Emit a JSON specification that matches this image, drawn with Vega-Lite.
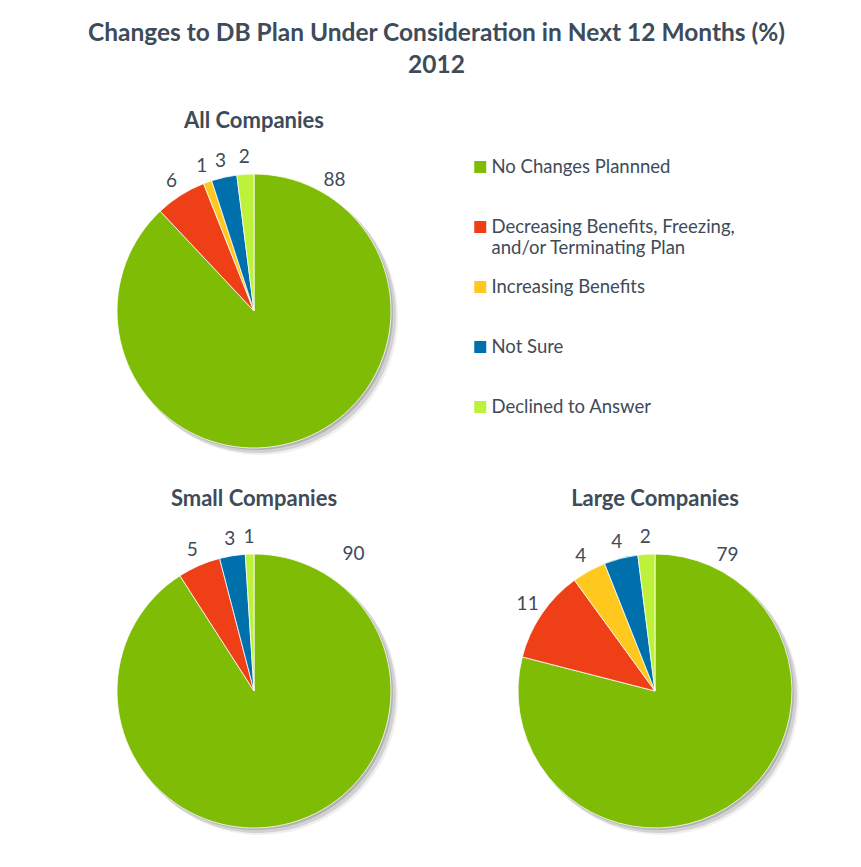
{
  "$schema": "https://vega.github.io/schema/vega-lite/v6.json",
  "background": "white",
  "padding": {"top": 20, "left": 87, "right": 5, "bottom": 5},
  "config": {
    "view": {"stroke": null},
    "font": "Lato",
    "title": {"font": "Lato", "fontWeight": "bold", "color": "#3E4B59"}
  },
  "title": {
    "text": ["Changes to DB Plan Under Consideration in Next 12 Months (%)", "2012"],
    "fontSize": 24.5,
    "lineHeight": 32,
    "anchor": "middle",
    "dx": -18,
    "offset": 32
  },
  "datasets": {
    "shares": [
      {"company": "All", "k": 0, "category": "No Changes Plannned", "value": 88},
      {"company": "All", "k": 1, "category": "Decreasing Benefits, Freezing, and/or Terminating Plan", "value": 6},
      {"company": "All", "k": 2, "category": "Increasing Benefits", "value": 1},
      {"company": "All", "k": 3, "category": "Not Sure", "value": 3},
      {"company": "All", "k": 4, "category": "Declined to Answer", "value": 2},
      {"company": "Small", "k": 0, "category": "No Changes Plannned", "value": 90},
      {"company": "Small", "k": 1, "category": "Decreasing Benefits, Freezing, and/or Terminating Plan", "value": 5},
      {"company": "Small", "k": 3, "category": "Not Sure", "value": 3},
      {"company": "Small", "k": 4, "category": "Declined to Answer", "value": 1},
      {"company": "Large", "k": 0, "category": "No Changes Plannned", "value": 79},
      {"company": "Large", "k": 1, "category": "Decreasing Benefits, Freezing, and/or Terminating Plan", "value": 11},
      {"company": "Large", "k": 2, "category": "Increasing Benefits", "value": 4},
      {"company": "Large", "k": 3, "category": "Not Sure", "value": 4},
      {"company": "Large", "k": 4, "category": "Declined to Answer", "value": 2}
    ]
  },
  "data": {"name": "shares"},
  "bounds": "flush",
  "spacing": 80,
  "resolve": {"scale": {"color": "shared"}},
  "vconcat": [
    {
      "title": {"text": "All Companies", "fontSize": 22, "offset": 15},
      "width": 300,
      "height": 300,
      "transform": [{"filter": "datum.company == 'All'"}],
      "encoding": {
        "theta": {"field": "value", "type": "quantitative", "stack": true},
        "order": {"field": "k", "type": "quantitative"},
        "color": {
          "field": "category",
          "type": "nominal",
          "scale": {
            "domain": ["No Changes Plannned", "Decreasing Benefits, Freezing, and/or Terminating Plan", "Increasing Benefits", "Not Sure", "Declined to Answer"],
            "range": ["#7FBC05", "#EE3F16", "#FFC81E", "#0070AD", "#BEF23A"]
          },
          "legend": {
            "title": null,
            "orient": "none",
            "legendX": 367,
            "legendY": -24,
            "padding": 0,
            "symbolType": "square",
            "symbolSize": 144,
            "symbolStrokeWidth": 0,
            "labelFont": "Lato",
            "labelFontSize": 18.5,
            "labelColor": "#3E4B59",
            "labelOffset": 2,
            "labelLimit": 400,
            "rowPadding": 0,
            "clipHeight": 60,
            "labelExpr": "datum.label == 'Decreasing Benefits, Freezing, and/or Terminating Plan' ? ['Decreasing Benefits, Freezing,', 'and/or Terminating Plan'] : datum.label"
          }
        }
      },
      "layer": [
        {"mark": {"type": "arc", "outerRadius": 138, "opacity": 0.06, "xOffset": 6, "yOffset": 6}, "encoding": {"color": {"value": "#000000"}}},
        {"mark": {"type": "arc", "outerRadius": 138, "opacity": 0.12, "xOffset": 4, "yOffset": 4}, "encoding": {"color": {"value": "#000000"}}},
        {"mark": {"type": "arc", "outerRadius": 137, "opacity": 0.15, "xOffset": 2, "yOffset": 2}, "encoding": {"color": {"value": "#000000"}}},
        {"mark": {"type": "arc", "outerRadius": 137, "stroke": "white", "strokeWidth": 0.8}},
        {
          "mark": {"type": "text", "radius": 154, "fontSize": 19, "font": "Lato", "thetaOffset": {"expr": "datum.k == 0 ? 0.55 - datum.value / 100 * PI : 0"}},
          "encoding": {
            "text": {"field": "value"},
            "color": {"value": "#3E4B59"}
          }
        }
      ]
    },
    {
      "bounds": "flush",
      "spacing": 101,
      "hconcat": [
        {
          "title": {"text": "Small Companies", "fontSize": 22, "offset": 17},
          "width": 300,
          "height": 300,
          "transform": [{"filter": "datum.company == 'Small'"}],
          "encoding": {
            "theta": {"field": "value", "type": "quantitative", "stack": true},
            "order": {"field": "k", "type": "quantitative"},
            "color": {"field": "category", "type": "nominal"}
          },
          "layer": [
            {"mark": {"type": "arc", "outerRadius": 138, "opacity": 0.06, "xOffset": 6, "yOffset": 6}, "encoding": {"color": {"value": "#000000"}}},
            {"mark": {"type": "arc", "outerRadius": 138, "opacity": 0.12, "xOffset": 4, "yOffset": 4}, "encoding": {"color": {"value": "#000000"}}},
            {"mark": {"type": "arc", "outerRadius": 137, "opacity": 0.15, "xOffset": 2, "yOffset": 2}, "encoding": {"color": {"value": "#000000"}}},
            {"mark": {"type": "arc", "outerRadius": 137, "stroke": "white", "strokeWidth": 0.8}},
            {
              "mark": {"type": "text", "radius": 154, "fontSize": 19, "font": "Lato", "thetaOffset": {"expr": "datum.k == 0 ? 0.63 - datum.value / 99 * PI : 0"}, "radiusOffset": {"expr": "datum.k == 0 ? 15 : 0"}},
              "encoding": {
                "text": {"field": "value"},
                "color": {"value": "#3E4B59"}
              }
            }
          ]
        },
        {
          "title": {"text": "Large Companies", "fontSize": 22, "offset": 17},
          "width": 300,
          "height": 300,
          "transform": [{"filter": "datum.company == 'Large'"}],
          "encoding": {
            "theta": {"field": "value", "type": "quantitative", "stack": true},
            "order": {"field": "k", "type": "quantitative"},
            "color": {"field": "category", "type": "nominal"}
          },
          "layer": [
            {"mark": {"type": "arc", "outerRadius": 138, "opacity": 0.06, "xOffset": 6, "yOffset": 6}, "encoding": {"color": {"value": "#000000"}}},
            {"mark": {"type": "arc", "outerRadius": 138, "opacity": 0.12, "xOffset": 4, "yOffset": 4}, "encoding": {"color": {"value": "#000000"}}},
            {"mark": {"type": "arc", "outerRadius": 137, "opacity": 0.15, "xOffset": 2, "yOffset": 2}, "encoding": {"color": {"value": "#000000"}}},
            {"mark": {"type": "arc", "outerRadius": 137, "stroke": "white", "strokeWidth": 0.8}},
            {
              "mark": {"type": "text", "radius": 154, "fontSize": 19, "font": "Lato", "thetaOffset": {"expr": "datum.k == 0 ? 0.49 - datum.value / 100 * PI : 0"}},
              "encoding": {
                "text": {"field": "value"},
                "color": {"value": "#3E4B59"}
              }
            }
          ]
        }
      ]
    }
  ]
}
